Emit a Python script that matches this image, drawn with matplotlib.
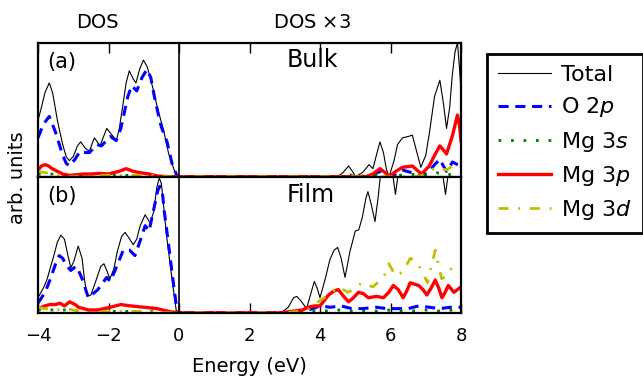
import matplotlib
matplotlib.use("Agg")
import matplotlib.pyplot as plt
from matplotlib.lines import Line2D

# ---------------- data (displayed values; right of 0 already x3) ----------------
# Panel (a): Bulk
tot_a_x = [-4.0, -3.9, -3.8, -3.68, -3.58, -3.45, -3.3, -3.2, -3.11, -3.0, -2.88, -2.79, -2.65, -2.54,
           -2.46, -2.40, -2.32, -2.24, -2.14, -2.05, -1.9, -1.78, -1.7, -1.6, -1.5, -1.41, -1.3, -1.22,
           -1.12, -1.01, -0.9, -0.73, -0.6, -0.44, -0.3, -0.15, -0.06, 0.0,
           4.5, 4.65, 4.81, 4.92, 5.01, 5.2, 5.3, 5.39, 5.5, 5.6, 5.70, 5.8, 5.88, 5.96, 6.1, 6.2, 6.34,
           6.5, 6.62, 6.75, 6.86, 7.0, 7.1, 7.25, 7.40, 7.5, 7.59, 7.68, 7.75, 7.83, 7.90, 7.96, 8.0]
tot_a_y = [0.42, 0.52, 0.63, 0.70, 0.62, 0.42, 0.24, 0.15, 0.12, 0.15, 0.23, 0.26, 0.21, 0.19,
           0.25, 0.29, 0.26, 0.23, 0.30, 0.36, 0.31, 0.27, 0.35, 0.52, 0.70, 0.79, 0.73, 0.70,
           0.80, 0.87, 0.82, 0.65, 0.50, 0.35, 0.18, 0.06, 0.0, 0.0,
           0.0, 0.03, 0.08, 0.04, 0.0, 0.03, 0.06, 0.09, 0.06, 0.16, 0.26, 0.18, 0.06, 0.0, 0.12, 0.24,
           0.29, 0.30, 0.31, 0.18, 0.07, 0.16, 0.32, 0.60, 0.72, 0.55, 0.36, 0.52, 0.75, 0.93, 1.0, 0.80, 0.64]

o2p_a_x = [-4.0, -3.85, -3.68, -3.5, -3.3, -3.2, -3.11, -2.95, -2.81, -2.65, -2.54, -2.33, -2.2, -1.95,
           -1.78, -1.65, -1.55, -1.45, -1.34, -1.2, -1.05, -0.91, -0.8, -0.7, -0.6, -0.5, -0.34, -0.2,
           -0.05, 5.4, 5.55, 5.70, 5.85, 5.96, 6.15, 6.34, 6.6, 6.88, 7.1, 7.25, 7.40, 7.5, 7.59, 7.76,
           7.9, 8.0]
o2p_a_y = [0.29, 0.39, 0.45, 0.33, 0.16, 0.10, 0.08, 0.13, 0.19, 0.18, 0.18, 0.24, 0.23, 0.30,
           0.27, 0.36, 0.48, 0.60, 0.68, 0.64, 0.74, 0.80, 0.74, 0.60, 0.48, 0.37, 0.26, 0.10,
           0.0, 0.0, 0.02, 0.04, 0.01, 0.0, 0.02, 0.05, 0.03, 0.0, 0.04, 0.09, 0.13, 0.08, 0.04, 0.11,
           0.09, 0.08]

mg3s_a_x = [-4.0, -3.6, -3.2, -2.8, -2.4, -2.0, -1.6, -1.2, -0.8, -0.4, 0.0, 4.6, 4.8, 5.0, 5.5, 6.0,
            6.5, 7.0, 7.3, 7.6, 7.85, 8.0]
mg3s_a_y = [0.02, 0.02, 0.01, 0.01, 0.01, 0.01, 0.01, 0.01, 0.01, 0.0, 0.0, 0.0, 0.02, 0.0, 0.01, 0.0,
            0.02, 0.01, 0.03, 0.01, 0.03, 0.02]

mg3p_a_x = [-4.0, -3.9, -3.8, -3.7, -3.6, -3.45, -3.3, -3.1, -2.9, -2.7, -2.5, -2.25, -2.0, -1.7, -1.5,
            -1.3, -1.1, -0.85, -0.6, -0.3, 5.3, 5.5, 5.70, 5.85, 5.96, 6.15, 6.34, 6.62, 6.75, 6.88,
            7.1, 7.25, 7.40, 7.5, 7.59, 7.75, 7.90, 7.96, 8.0]
mg3p_a_y = [0.05, 0.08, 0.09, 0.08, 0.06, 0.04, 0.02, 0.01, 0.015, 0.02, 0.02, 0.025, 0.02, 0.04, 0.06,
            0.04, 0.03, 0.02, 0.005, 0.0, 0.0, 0.02, 0.06, 0.03, 0.0, 0.04, 0.07, 0.08, 0.05, 0.02,
            0.08, 0.16, 0.23, 0.20, 0.17, 0.30, 0.46, 0.38, 0.27]

mg3d_a_x = [-4.0, -3.8, -3.5, -3.2, -2.5, -2.0, -1.5, -0.8, -0.3, 0.0, 6.7, 6.9, 7.1, 7.3, 7.45, 7.6,
            7.75, 7.9, 8.0]
mg3d_a_y = [0.04, 0.03, 0.02, 0.0, 0.005, 0.01, 0.01, 0.01, 0.0, 0.0, 0.0, 0.01, 0.04, 0.07, 0.06, 0.05,
            0.08, 0.10, 0.08]

# Panel (b): Film
tot_b_x = [-4.0, -3.85, -3.75, -3.55, -3.45, -3.35, -3.25, -3.15, -3.07, -2.98, -2.86, -2.75, -2.68,
           -2.60, -2.5, -2.35, -2.22, -2.13, -2.05, -1.96, -1.85, -1.75, -1.63, -1.53, -1.42, -1.30,
           -1.2, -1.1, -0.96, -0.82, -0.72, -0.63, -0.56, -0.5, -0.45, -0.35, -0.2, -0.07, 0.0,
           2.9, 3.1, 3.25, 3.34, 3.45, 3.62, 3.75, 3.84, 3.92, 4.0, 4.15, 4.28, 4.40, 4.50, 4.6, 4.71,
           4.85, 5.0, 5.1, 5.2, 5.3, 5.36, 5.45, 5.56, 5.65, 5.75, 5.85, 6.02, 6.14, 6.26, 6.6, 7.0,
           7.44, 7.56, 7.68, 8.0]
tot_b_y = [0.11, 0.18, 0.24, 0.42, 0.52, 0.57, 0.54, 0.42, 0.33, 0.38, 0.49, 0.40, 0.24,
           0.12, 0.13, 0.24, 0.34, 0.36, 0.31, 0.25, 0.32, 0.45, 0.56, 0.59, 0.55, 0.50,
           0.54, 0.64, 0.72, 0.66, 0.74, 0.92, 0.99, 0.95, 0.82, 0.56, 0.25, 0.0, 0.0,
           0.0, 0.04, 0.11, 0.12, 0.09, 0.03, 0.15, 0.23, 0.18, 0.11, 0.25, 0.39, 0.46, 0.48, 0.40, 0.26,
           0.45, 0.60, 0.61, 0.70, 0.84, 0.89, 0.80, 0.67, 0.85, 1.1, 1.3, 1.1, 0.87, 1.1, 1.5, 1.5,
           1.1, 0.87, 1.1, 1.5]

o2p_b_x = [-4.0, -3.8, -3.66, -3.5, -3.40, -3.3, -3.2, -3.07, -2.98, -2.90, -2.75, -2.57, -2.3, -2.05,
           -1.95, -1.8, -1.58, -1.4, -1.25, -1.1, -0.96, -0.85, -0.7, -0.6, -0.54, -0.47, -0.42, -0.30,
           -0.15, -0.05, 3.0, 3.5, 3.8, 4.0, 4.3, 4.6, 4.9, 5.2, 5.6, 5.9, 6.2, 6.5, 6.8, 7.1, 7.4,
           7.7, 8.0]
o2p_b_y = [0.07, 0.15, 0.24, 0.36, 0.42, 0.40, 0.35, 0.31, 0.33, 0.34, 0.25, 0.11, 0.17, 0.26,
           0.23, 0.32, 0.46, 0.46, 0.42, 0.53, 0.64, 0.60, 0.78, 0.90, 0.93, 0.88, 0.75, 0.51,
           0.20, 0.0, 0.0, 0.01, 0.03, 0.05, 0.04, 0.05, 0.03, 0.03, 0.04, 0.03, 0.03, 0.03, 0.05,
           0.04, 0.03, 0.04, 0.04]

mg3s_b_x = [-4.0, -3.6, -3.2, -2.8, -2.4, -2.0, -1.6, -1.2, -0.8, -0.4, 0.0, 3.3, 3.6, 4.0, 4.5, 5.0,
            5.5, 6.0, 6.5, 7.0, 7.5, 8.0]
mg3s_b_y = [0.02, 0.02, 0.02, 0.01, 0.01, 0.01, 0.01, 0.01, 0.01, 0.0, 0.0, 0.0, 0.02, 0.01, 0.02, 0.01,
            0.01, 0.02, 0.01, 0.02, 0.01, 0.03]

mg3p_b_x = [-4.0, -3.8, -3.66, -3.5, -3.38, -3.25, -3.1, -2.95, -2.85, -2.57, -2.3, -1.95, -1.65,
            -1.38, -0.99, -0.62, -0.3, -0.05, 2.9, 3.2, 3.5, 3.67, 3.85, 4.0, 4.12, 4.24, 4.4, 4.52,
            4.67, 4.81, 4.95, 5.09, 5.23, 5.37, 5.6, 5.8, 5.95, 6.08, 6.22, 6.36, 6.46, 6.56, 6.8,
            6.92, 7.03, 7.15, 7.27, 7.37, 7.46, 7.55, 7.64, 7.8, 7.9, 8.0]
mg3p_b_y = [0.03, 0.05, 0.06, 0.06, 0.07, 0.05, 0.08, 0.06, 0.04, 0.02, 0.02, 0.04, 0.06,
            0.05, 0.04, 0.03, 0.01, 0.0, 0.0, 0.01, 0.02, 0.04, 0.05, 0.05, 0.09, 0.13, 0.16, 0.17,
            0.12, 0.08, 0.11, 0.15, 0.14, 0.11, 0.12, 0.11, 0.15, 0.20, 0.17, 0.11, 0.16, 0.22, 0.20,
            0.17, 0.13, 0.18, 0.24, 0.18, 0.11, 0.15, 0.20, 0.15, 0.17, 0.19]

mg3d_b_x = [-4.0, -3.8, -3.5, -3.2, -3.0, -2.5, -2.0, -1.5, -1.0, -0.5, 0.0, 3.0, 3.4, 3.7, 4.0, 4.3,
            4.52, 4.8, 5.0, 5.18, 5.5, 5.81, 5.95, 6.15, 6.35, 6.56, 6.7, 6.84, 7.05, 7.27, 7.45, 7.6,
            7.74, 8.0]
mg3d_b_y = [0.04, 0.03, 0.02, 0.03, 0.02, 0.0, 0.01, 0.01, 0.01, 0.0, 0.0, 0.0, 0.01, 0.03, 0.09, 0.14,
            0.19, 0.15, 0.18, 0.22, 0.19, 0.26, 0.36, 0.27, 0.30, 0.40, 0.38, 0.33, 0.22, 0.46, 0.25,
            0.27, 0.33, 0.31]

x_ticks = [-4, -2, 0, 2, 4, 6, 8]
labels = ["Total", "O $2p$", "Mg $3s$", "Mg $3p$", "Mg $3d$"]

# ---------------- styles ----------------
styles = [
    dict(color="k", lw=0.8, ls="-"),
    dict(color="#0000ff", lw=2.2, ls=(0, (3.3, 2.2))),
    dict(color="#008000", lw=2.0, ls=(0, (1.0, 3.5))),
    dict(color="#ff0000", lw=2.4, ls="-"),
    dict(color="#bfbf00", lw=2.0, ls=(0, (3.6, 3.5, 0.7, 3.5))),
]

plt.rcParams["font.family"] = ["DejaVu Sans"]
plt.rcParams["mathtext.fontset"] = "dejavusans"

W, H = 643, 379
fig = plt.figure(figsize=(W / 100, H / 100), dpi=100)

def fx(px):
    return px / W

def fy(py):
    return 1 - py / H

left, right = 38, 461
ax_a = fig.add_axes([fx(left), fy(176.7), fx(right - left), (176.7 - 42.7) / H])
ax_b = fig.add_axes([fx(left), fy(312.7), fx(right - left), (312.7 - 176.7) / H])

series_a = [(tot_a_x, tot_a_y), (o2p_a_x, o2p_a_y), (mg3s_a_x, mg3s_a_y), (mg3p_a_x, mg3p_a_y), (mg3d_a_x, mg3d_a_y)]
series_b = [(tot_b_x, tot_b_y), (o2p_b_x, o2p_b_y), (mg3s_b_x, mg3s_b_y), (mg3p_b_x, mg3p_b_y), (mg3d_b_x, mg3d_b_y)]

for ax, series in ((ax_a, series_a), (ax_b, series_b)):
    for (xs, ys), st, lab in zip(series, styles, labels):
        ax.plot(xs, ys, label=lab, solid_joinstyle="round", **st)
    ax.axvline(0, color="k", lw=1.2)
    ax.set_xlim(-4, 8)
    ax.set_ylim(0, 1)
    ax.set_yticks([])
    ax.set_xticks(x_ticks)
    for sp in ax.spines.values():
        sp.set_linewidth(1.6)

ax_a.tick_params(axis="x", direction="in", top=True, bottom=False, labelbottom=False, length=7, width=1)
ax_b.tick_params(axis="x", direction="in", top=False, bottom=True, labelsize=13, length=7, width=1, pad=10)

ax_a.text(fx(47), fy(62), "(a)", transform=fig.transFigure, fontsize=15, va="center", ha="left")
ax_b.text(fx(47), fy(196), "(b)", transform=fig.transFigure, fontsize=15, va="center", ha="left")
fig.text(fx(312), fy(60), "Bulk", fontsize=17, ha="center", va="center")
fig.text(fx(311), fy(194.5), "Film", fontsize=17, ha="center", va="center")
fig.text(fx(97.5), fy(22), "DOS", fontsize=14, ha="center", va="center")
fig.text(fx(312), fy(22), r"DOS $\times$3", fontsize=14, ha="center", va="center")
fig.text(fx(18), fy(178), "arb. units", fontsize=14, ha="center", va="center", rotation=90)
fig.text(fx(249), fy(366), "Energy (eV)", fontsize=14, ha="center", va="center")

handles = [Line2D([], [], **st) for st in styles]
leg = fig.legend(handles, labels, loc="upper left", bbox_to_anchor=(fx(487), fy(54)),
                 bbox_transform=fig.transFigure, borderaxespad=0, fontsize=16, frameon=True,
                 fancybox=False, framealpha=1, edgecolor="k", handlelength=2.4,
                 handletextpad=0.45, labelspacing=0.46, borderpad=0.5)
leg.get_frame().set_linewidth(2)

fig.savefig("out.png", dpi=100)
